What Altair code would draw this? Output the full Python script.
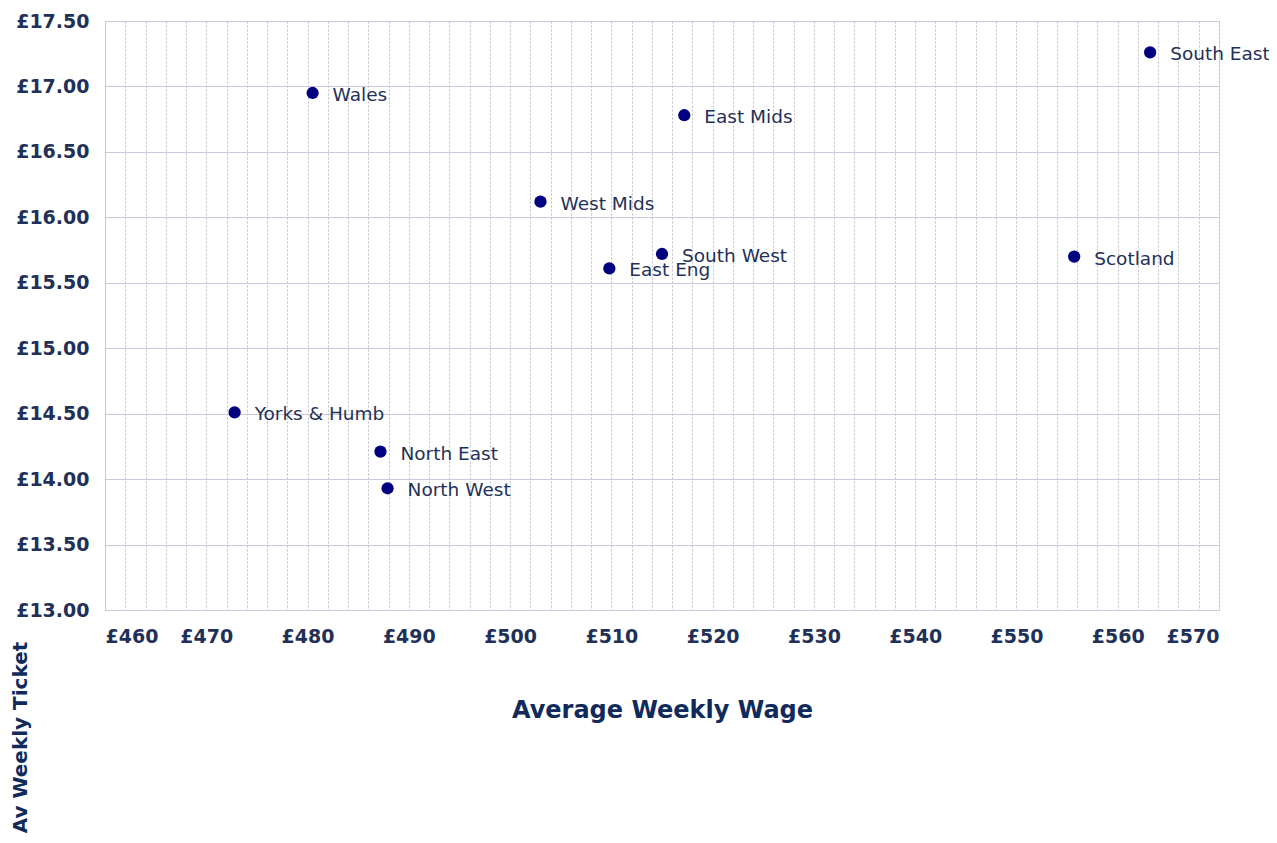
import altair as alt
import pandas as pd

regions = ["Wales", "South East", "East Mids", "West Mids", "South West",
           "East Eng", "Scotland", "Yorks & Humb", "North East", "North West"]
wage = [480.5, 563.2, 517.2, 503.0, 515.0, 509.8, 555.7, 472.8, 487.2, 487.9]
ticket = [16.95, 17.26, 16.78, 16.12, 15.72, 15.61, 15.70, 14.51, 14.21, 13.93]

x_ticks = list(range(460, 571, 2))
y_ticks = [13.0, 13.5, 14.0, 14.5, 15.0, 15.5, 16.0, 16.5, 17.0, 17.5]

df = pd.DataFrame({"region": regions, "wage": wage, "ticket": ticket})

FONT = "DejaVu Sans"
LABEL_COLOR = "#1f3158"
TITLE_COLOR = "#102a5c"

x_axis = alt.Axis(values=x_ticks,
                  labelExpr="datum.value % 10 == 0 ? '£' + datum.value : ''",
                  labelOverlap=False,
                  title="Average Weekly Wage",
                  titleFont=FONT, titleFontSize=24, titleFontWeight="bold",
                  titleColor=TITLE_COLOR, titleY=100, titleBaseline="middle",
                  labelFont=FONT, labelFontSize=19, labelFontWeight="bold",
                  labelColor=LABEL_COLOR, labelPadding=17,
                  ticks=False, domainColor="#c9c9df",
                  grid=True, gridColor="#bdbdc8", gridDash=[2, 2],
                  gridWidth=1)
y_axis = alt.Axis(values=y_ticks,
                  labelExpr="'£' + format(datum.value, '.2f')",
                  labelOverlap=False,
                  title="Av Weekly Ticket",
                  titleFont=FONT, titleFontSize=20, titleFontWeight="bold",
                  titleColor=TITLE_COLOR, titleAngle=270,
                  titleX=-85, titleY=716, titleAlign="center",
                  titleBaseline="middle",
                  labelFont=FONT, labelFontSize=19, labelFontWeight="bold",
                  labelColor=LABEL_COLOR, labelPadding=16,
                  ticks=False, domainColor="#c9c9df",
                  grid=True, gridColor="#c9c9df", gridWidth=1)

x_scale = alt.Scale(domain=[460, 570], nice=False, zero=False)
y_scale = alt.Scale(domain=[13.0, 17.5], nice=False, zero=False)

points = alt.Chart(df).mark_circle(size=150, color="#000080", opacity=1).encode(
    x=alt.X("wage:Q", scale=x_scale, axis=x_axis),
    y=alt.Y("ticket:Q", scale=y_scale, axis=y_axis))
labels = alt.Chart(df).mark_text(align="left", baseline="middle", dx=20, dy=2,
                                 font=FONT, fontSize=18.5, color=LABEL_COLOR).encode(
    x=alt.X("wage:Q", scale=x_scale, axis=x_axis),
    y=alt.Y("ticket:Q", scale=y_scale, axis=y_axis),
    text="region:N")

chart = (points + labels).properties(
    width=1114, height=589,
    autosize=alt.AutoSizeParams(type="none"),
    padding={"left": 97, "top": 13, "right": 50, "bottom": 230},
).configure_view(stroke="#c9c9df", strokeWidth=1
).configure_axis(labelOverlap=False, labelBound=False, labelFlush=False
).configure(background="white")

chart.save("out.html", embed_options={"renderer": "svg", "actions": False})
